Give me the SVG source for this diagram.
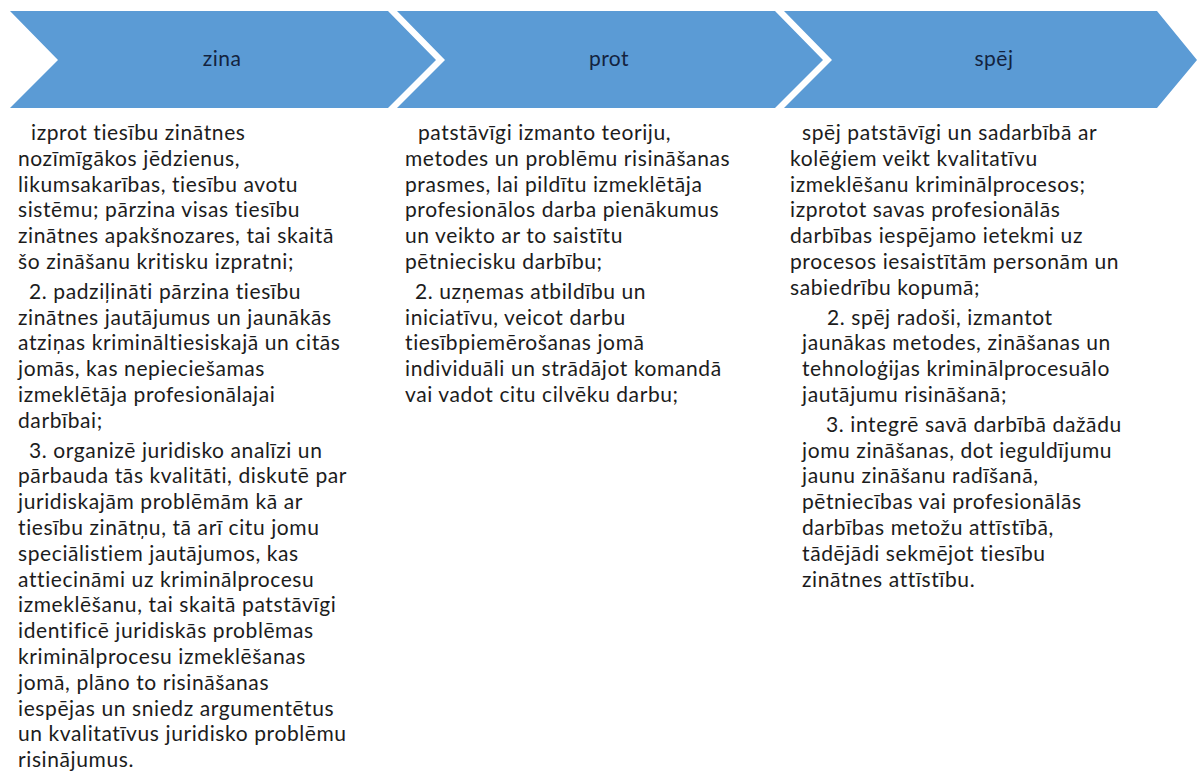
<svg xmlns="http://www.w3.org/2000/svg" width="1197" height="773" viewBox="0 0 1197 773">
<style>
.chev{fill:#5B9BD5;}
.lbl{font-family:Lato,"Liberation Sans",sans-serif;font-size:21px;letter-spacing:0.5px;fill:#13233f;text-anchor:middle;}
.body{font-family:Lato,"Liberation Sans",sans-serif;font-size:21px;letter-spacing:0.6px;fill:#1c1c1c;}
</style>
<rect width="1197" height="773" fill="#ffffff"/>
<g id="node-zina">
<path class="chev" d="M10,11 L388,11 L436,60 L388,108 L10,108 L58,60 Z"/>
<text class="lbl" x="222" y="66">zina</text>
</g>
<g id="node-prot">
<path class="chev" d="M397,11 L775,11 L823,60 L775,108 L397,108 L445,60 Z"/>
<text class="lbl" x="609" y="66">prot</text>
</g>
<g id="node-spej">
<path class="chev" d="M784,11 L1157,11 L1197,60 L1157,108 L784,108 L832,60 Z"/>
<text class="lbl" x="994" y="66">spēj</text>
</g>
<g id="text-zina" class="body" xml:space="preserve">
<text x="31" y="140">izprot tiesību zinātnes</text>
<text x="18" y="165.8">nozīmīgākos jēdzienus,</text>
<text x="18" y="191.6">likumsakarības, tiesību avotu</text>
<text x="18" y="217.4">sistēmu; pārzina visas tiesību</text>
<text x="18" y="243.2">zinātnes apakšnozares, tai skaitā</text>
<text x="18" y="269">šo zināšanu kritisku izpratni;</text>
<text x="29" y="298.8">2. padziļināti pārzina  tiesību</text>
<text x="18" y="324.6">zinātnes jautājumus un   jaunākās</text>
<text x="18" y="350.4">atziņas krimināltiesiskajā un citās</text>
<text x="18" y="376.2">jomās, kas nepieciešamas</text>
<text x="18" y="402">izmeklētāja profesionālajai</text>
<text x="18" y="427.8">darbībai;</text>
<text x="29" y="457.6">3. organizē juridisko analīzi un</text>
<text x="18" y="483.4">pārbauda tās kvalitāti, diskutē par</text>
<text x="18" y="509.2">juridiskajām problēmām kā ar</text>
<text x="18" y="535">tiesību zinātņu, tā arī citu jomu</text>
<text x="18" y="560.8">speciālistiem jautājumos, kas</text>
<text x="18" y="586.6">attiecināmi uz kriminālprocesu</text>
<text x="18" y="612.4">izmeklēšanu, tai skaitā patstāvīgi</text>
<text x="18" y="638.2">identificē juridiskās problēmas</text>
<text x="18" y="664">kriminālprocesu izmeklēšanas</text>
<text x="18" y="689.8">jomā, plāno to risināšanas</text>
<text x="18" y="715.6">iespējas un sniedz argumentētus</text>
<text x="18" y="741.4">un kvalitatīvus juridisko problēmu</text>
<text x="18" y="767">risinājumus.</text>
</g>
<g id="text-prot" class="body" xml:space="preserve">
<text x="418" y="140">patstāvīgi izmanto teoriju,</text>
<text x="405" y="165.8">metodes un problēmu risināšanas</text>
<text x="405" y="191.6">prasmes, lai pildītu izmeklētāja</text>
<text x="405" y="217.4">profesionālos darba pienākumus</text>
<text x="405" y="243.2">un veikto ar to saistītu</text>
<text x="405" y="269">pētniecisku darbību;</text>
<text x="415" y="298.8">2. uzņemas atbildību un</text>
<text x="405" y="324.6">iniciatīvu, veicot darbu</text>
<text x="405" y="350.4">tiesībpiemērošanas jomā</text>
<text x="405" y="376.2">individuāli un strādājot komandā</text>
<text x="405" y="402">vai vadot citu cilvēku darbu;</text>
</g>
<g id="text-spej" class="body" xml:space="preserve">
<text x="802" y="140">spēj patstāvīgi un sadarbībā ar</text>
<text x="790" y="165.8">kolēģiem veikt  kvalitatīvu</text>
<text x="790" y="191.6">izmeklēšanu kriminālprocesos;</text>
<text x="790" y="217.4">izprotot savas profesionālās</text>
<text x="790" y="243.2">darbības iespējamo ietekmi uz</text>
<text x="790" y="269">procesos iesaistītām personām un</text>
<text x="790" y="294.8">sabiedrību kopumā;</text>
<text x="827" y="324.6">2. spēj radoši, izmantot</text>
<text x="802" y="350.4">jaunākas metodes, zināšanas un</text>
<text x="802" y="376.2">tehnoloģijas kriminālprocesuālo</text>
<text x="802" y="402">jautājumu risināšanā;</text>
<text x="826" y="431.8">3. integrē savā darbībā dažādu</text>
<text x="802" y="457.6">jomu zināšanas, dot ieguldījumu</text>
<text x="802" y="483.4">jaunu zināšanu radīšanā,</text>
<text x="802" y="509.2">pētniecības vai profesionālās</text>
<text x="802" y="535">darbības metožu attīstībā,</text>
<text x="802" y="560.8">tādējādi sekmējot tiesību</text>
<text x="802" y="586.6">zinātnes attīstību.</text>
</g>
</svg>
